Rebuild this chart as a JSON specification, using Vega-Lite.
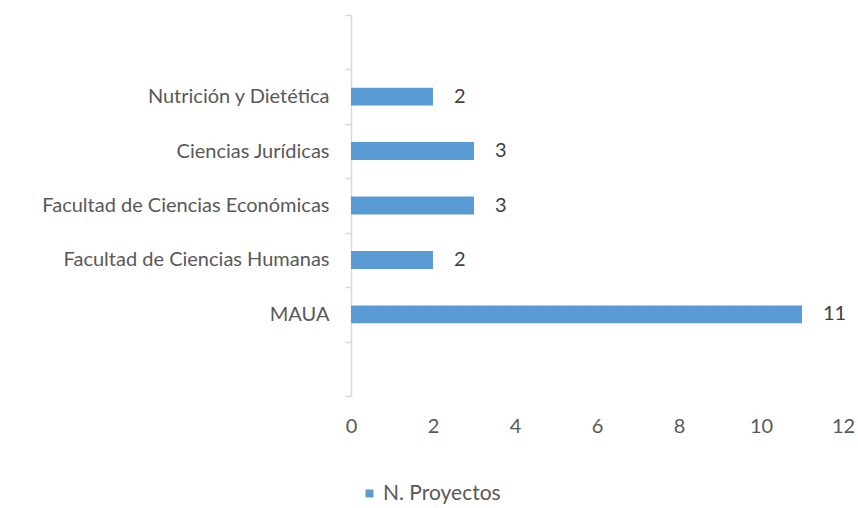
{
  "$schema": "https://vega.github.io/schema/vega-lite/v6.json",
  "autosize": {"type": "none"},
  "width": 492,
  "height": 381,
  "padding": {"left": 351, "top": 15, "right": 15, "bottom": 112},
  "background": "white",
  "config": {
    "view": {"stroke": null},
    "font": "Lato",
    "axis": {"labelFont": "Lato", "labelColor": "#595959", "grid": false},
    "legend": {"labelFont": "Lato"}
  },
  "data": {
    "values": [
      {"facultad": "Nutrición y Dietética", "proyectos": 2, "serie": "N. Proyectos"},
      {"facultad": "Ciencias Jurídicas", "proyectos": 3, "serie": "N. Proyectos"},
      {"facultad": "Facultad de Ciencias Económicas", "proyectos": 3, "serie": "N. Proyectos"},
      {"facultad": "Facultad de Ciencias Humanas", "proyectos": 2, "serie": "N. Proyectos"},
      {"facultad": "MAUA", "proyectos": 11, "serie": "N. Proyectos"}
    ]
  },
  "encoding": {
    "y": {
      "field": "facultad",
      "type": "nominal",
      "scale": {
        "domain": [" ", "Nutrición y Dietética", "Ciencias Jurídicas", "Facultad de Ciencias Económicas", "Facultad de Ciencias Humanas", "MAUA", "  "],
        "paddingInner": 0,
        "paddingOuter": 0
      },
      "axis": {
        "title": null,
        "domainColor": "#D9D9D9",
        "domainWidth": 1.5,
        "tickColor": "#D9D9D9",
        "tickWidth": 1.5,
        "tickSize": 6,
        "tickBand": "extent",
        "labelFontSize": 20,
        "labelPadding": 16,
        "labelLimit": 0
      }
    }
  },
  "layer": [
    {
      "mark": {"type": "bar", "height": {"band": 0.33}},
      "encoding": {
        "x": {
          "field": "proyectos",
          "type": "quantitative",
          "scale": {"domain": [0, 12]},
          "axis": {
            "title": null,
            "values": [0, 2, 4, 6, 8, 10, 12],
            "domain": false,
            "ticks": false,
            "labelFlush": false,
            "labelFontSize": 20,
            "labelPadding": 20
          }
        },
        "color": {
          "field": "serie",
          "type": "nominal",
          "scale": {"range": ["#5B9BD5"]},
          "legend": {
            "title": null,
            "orient": "none",
            "legendX": 8,
            "legendY": 468,
            "symbolType": "square",
            "symbolSize": 64,
            "symbolStrokeWidth": 0,
            "labelFontSize": 21,
            "labelOffset": 3,
            "labelColor": "#595959"
          }
        }
      }
    },
    {
      "mark": {"type": "text", "align": "left", "baseline": "middle", "dx": 21, "fontSize": 20, "color": "#404040"},
      "encoding": {
        "x": {"field": "proyectos", "type": "quantitative"},
        "text": {"field": "proyectos", "type": "quantitative"}
      }
    }
  ]
}
